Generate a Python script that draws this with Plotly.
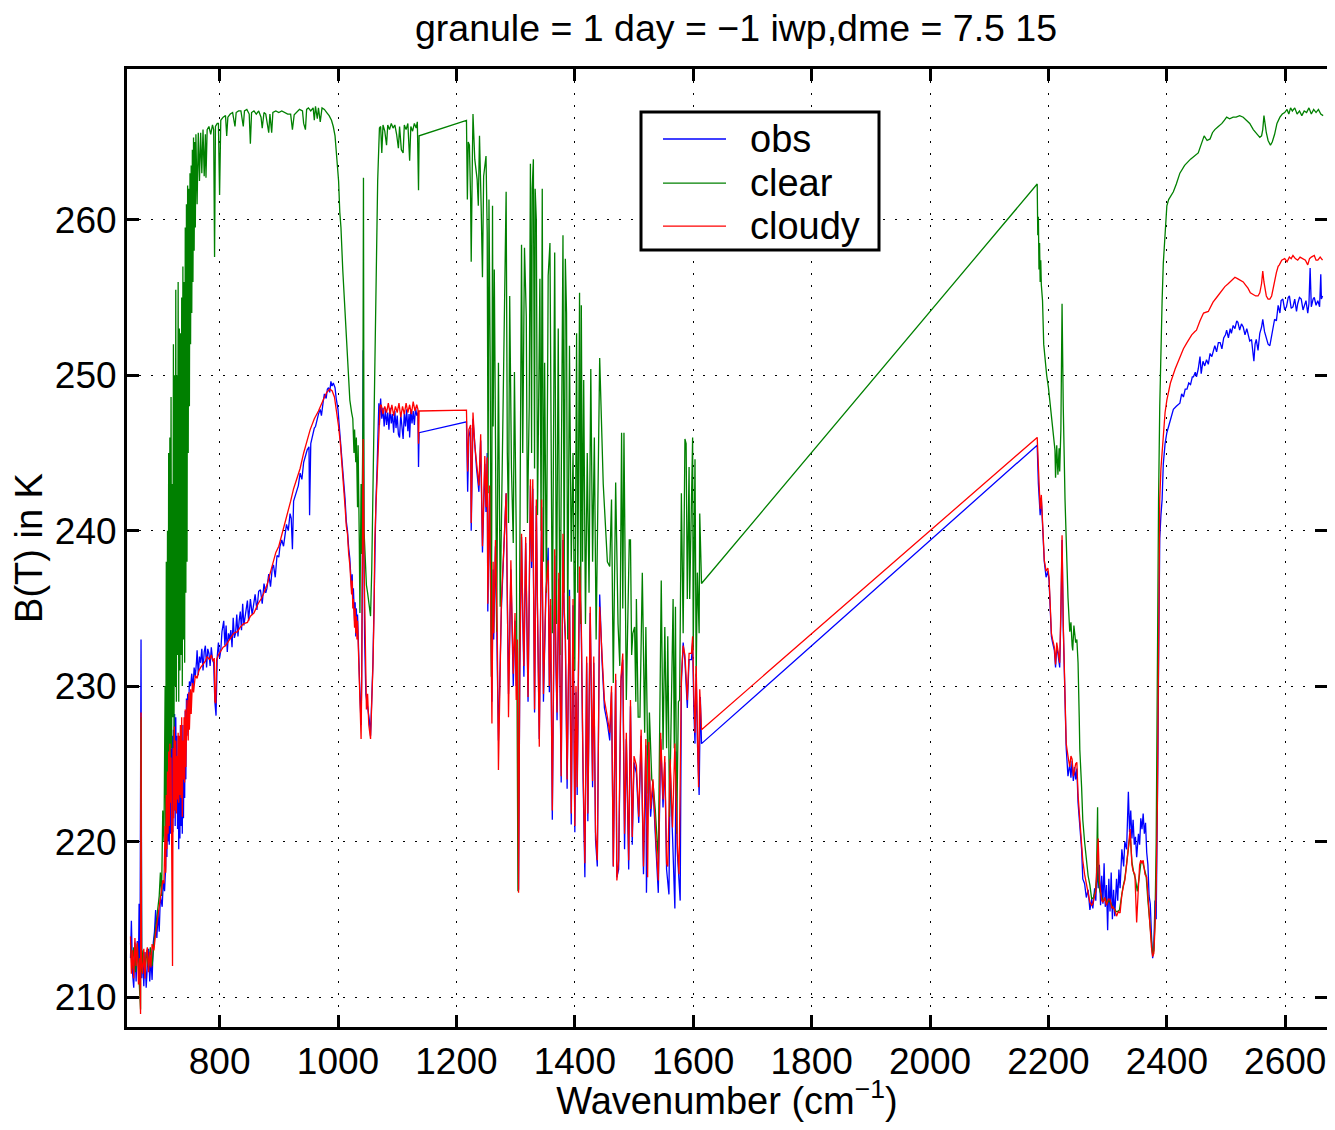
import plotly.graph_objects as go

# ---------------- data ----------------
obs_pts = [
 (649.5,212.5),(651,214.9),(653,211.5),(655,210.6),(657,213.5),(659,211.0),(661,213.6),(663,212.2),(664,216.0),(665.5,211.5),
 (667.3,233.0),(668.5,211.2),(670,212.8),(672,210.7),(674,212.9),(676,210.6),(678,212.0),(680,213.1),(682,211.0),(684,212.5),
 (686,211.1),(688,213.5),(690,214.2),(692,215.6),(694,213.8),(696,215.4),(698,214.2),(700,216.5),(703,215.8),(705,217.5),
 (707,216.8),(709,218.4),(710,222),(711,219),(712,223.5),(713,220),(714,224.2),(715,219.8),(716,225.6),(717,220.5),
 (718,226),(719,221.5),(720,226.8),(721,220.6),(722,227.2),(723,222),(724,228.2),(725,221),(726,228.0),(727,222.5),
 (728,226.8),(729,220.8),(730,225.5),(731,219.5),(732,226),(733,220.2),(734,227.5),(735,221),(736,226.3),(737,220.5),
 (738,227.5),(739,221.5),(740,226.5),(741,222.8),(742,228.4),(743,224),(744,229.2),(745,226.8),(746,229.5),(747,227.5),
 (749,230.3),(751,230.0),(753,230.8),(755,229.8),(757,231.2),(759,230.6),(761,231.6),(762,232.3),(764,230.7),(766,231.9),
 (768,231.5),(770,232.4),(772,231.0),(774,232.2),(776,232.6),(778,231.2),(780,232.4),(782,232.1),(784,231.3),(786,232.5),
 (788,231.7),(790,231.5),(792,229.0),(794,228.1),(796,231.9),(798,232.8),(800,231.8),(802,232.3),(804,233.5),(807,234.2),
 (809,232.6),(811,233.9),(813,232.2),(815,233.4),(817,233.0),(819,233.6),(821,232.5),(823,234.4),(825,233.1),(827,233.4),
 (829,234.6),(831,233.2),(833,234.2),(835,234.8),(837,233.6),(839,235.3),(841,233.9),(844,234.9),(847,235.5),(849,234.2),
 (852,235.6),(855,234.6),(857,235.1),(860,235.9),(863,234.9),(866,236.1),(869,236.2),(872,235.3),(875,236.6),(878,236.0),
 (880,236.3),(883,237.2),(886,236.4),(889,237.6),(891,237.8),(894,237.0),(897,238.4),(900,238.3),(902,239.0),(905,239.4),
 (908,239.0),(911,240.1),(913,240.4),(916,240.0),(919,241.1),(921,240.8),(923,238.8),(925,241.9),(928,242.3),(930,242.5),
 (933,242.9),(936,243.7),(939,243.3),(942,244.4),(945,244.8),(948,245.2),(951,245.4),(952,241.0),(954,245.6),(957,246.2),
 (960,246.6),(962,246.7),(964,247.1),(967,247.5),(970,247.8),(972,247.4),(975,248.3),(977,248.8),(980,248.5),(982,249.1),
 (984,249.2),(986,248.9),(988,249.6),(990,249.3),(992,249.5),(995,249.2),(997,248.5),(1000,247.8),(1002,246.8),(1004,245.9),
 (1006,244.9),(1008,244.3),(1010,243.0),(1012,242.0),(1014,240.6),(1016,240.0),(1018,238.9),(1020,238.2),(1022,236.8),(1023,236.3),
 (1024,237.2),(1025,235.3),(1026,236.3),(1027,234.5),(1028,234.2),(1029,235.4),(1030,233.2),(1031,235),(1032,233.5),(1033,234.6),
 (1034,233),(1035,231),(1037,229.5),(1039,227.5),(1040,230.5),(1041.5,240),(1042.5,251.6),(1043.5,240),(1045,233),(1047,229.5),
 (1049,229),(1051,228.5),(1053,227.8),(1055,226.8),(1057,228.8),(1059,231.5),(1061,235.5),(1062,238.8),(1064,241.8),(1066,244),
 (1068,246.5),(1069,248.2),(1070,246.8),(1072,248.5),(1074,247.2),(1076,247.9),(1078,246.7),(1080,247.8),(1082,246.8),(1084,247.6),
 (1086,246.5),(1088,247.9),(1090,246.9),(1092,247.5),(1094,246.3),(1096,247.7),(1098,246.6),(1100,247.4),(1102,246.2),(1104,246.0),
 (1106,247.5),(1108,246.4),(1110,245.9),(1112,247.6),(1114,246.7),(1116,247.8),(1118,246.4),(1120,247.5),(1121,246.0),(1123,247.8),
 (1125,246.9),(1127,247.7),(1129,246.8),(1131,247.9),(1133,247.4),(1135,247.6),(1136,244.1),(1137,246.3),(1217,247.0),
 (1219,242.5),(1221,246.0),(1224,246.6),(1225,240.0),(1228,247.2),(1231,245.2),(1234,244.0),(1238,242.5),(1241,245.8),(1244,238.6),
 (1248,244.3),(1250,241.2),(1252,245.0),(1253,234.8),(1256,242.5),(1258,235.5),(1260,229.0),(1262,237.5),(1263,233.0),(1266,239.0),
 (1269,232.6),(1271,226.5),(1276,235.0),(1280,238.4),(1284,242.4),(1286,235.5),(1288,229.5),(1292,237.5),(1294,232.5),(1296,230.0),
 (1299,234.2),(1301,230.0),(1303,232.5),(1305,216.9),(1307,230.6),(1310,239.6),(1312,234.6),(1314,230.6),(1317,239.2),(1319,233.6),
 (1321,229.0),(1323,235.6),(1325,242.9),(1327,237.6),(1329,242.7),(1332,228.3),(1335,241.6),(1337,234.6),(1340,226.6),(1344,241.5),
 (1346,235.6),(1347,229.0),(1351,235.6),(1355,238.9),(1357,229.6),(1359,235.2),(1362,221.4),(1366,238.4),(1368,231.6),(1370,227.8),
 (1373,236.9),(1375,229.6),(1377,223.8),(1380,239.4),(1382,234.6),(1384,233.0),(1387,223.4),(1391,236.2),(1394,221.1),(1397,235.2),
 (1400,220.6),(1402,229.6),(1404,223.0),(1408,237.3),(1411,233.4),(1414,224.0),(1417,217.7),(1420,231.5),(1422,221.3),(1426,234.7),
 (1430,223.5),(1432,231.5),(1435,220.1),(1438,218.4),(1442,235.9),(1446,231.6),(1450,228.6),(1455,227.6),(1459,226.5),(1462,229.6),
 (1465,218.4),(1469,230.4),(1471,217.7),(1474,218.2),(1478,230.3),(1481,231.7),(1484,219.5),(1487,226.6),(1491,218.2),(1494,228.7),
 (1497,219.8),(1500,225.1),(1504,224.4),(1508,221.2),(1512,226.8),(1516,217.9),(1520,226.2),(1521,216.7),(1525,225.9),(1528,221.6),
 (1532,223.6),(1537,219.6),(1541,216.7),(1545,226.6),(1549,222.2),(1552,225.1),(1555,218.2),(1559,216.6),(1561,224.9),(1565,220.4),
 (1569,215.7),(1571,225.8),(1573,219.4),(1578,216.2),(1580,230.2),(1583,232.8),(1586,231.6),(1590,228.6),(1593,231.7),(1597,231.7),
 (1599,232.8),(1601,228.5),(1603,226.3),(1605,230.8),(1607,226.5),(1610,223.0),(1612,229.3),(1614,226.3),(2181,245.5),
 (2183,243.0),(2186,241.0),(2188,242.0),(2190,240.2),(2193,238.0),(2196,237.0),(2199,237.4),(2201,236.8),(2203,235.2),(2205,233.2),
 (2207,232.8),(2210,232.3),(2212,231.2),(2214,232.5),(2216,232.1),(2219,231.2),(2221,234.5),(2223,239.4),(2225,233.8),(2226,232.0),
 (2228,228.8),(2230,226.0),(2233,224.2),(2236,225.0),(2238,224.1),(2240,225.2),(2242,223.9),(2244,224.8),(2246,224.0),(2248,224.7),
 (2250,222.5),(2253,220.8),(2256,219.5),(2258,217.6),(2261,217.3),(2264,216.4),(2267,216.9),(2270,215.6),(2273,216.3),(2275,215.7),
 (2278,217.0),(2280,216.2),(2282,218.4),(2284,217.0),(2286,218.5),(2288,215.9),(2290,217.8),(2292,216.0),(2294,218.6),(2296,215.8),
 (2298,217.2),(2300,214.3),(2302,217.6),(2304,215.5),(2306,218.0),(2308,215.0),(2310,216.9),(2312,215.2),(2315,217.6),(2317,216.2),
 (2319,218.2),(2321,217.0),(2324,219.5),(2327,218.4),(2329,220.0),(2332,219.5),(2334,221.5),(2335,223.2),(2337,220.6),(2339,222.0),
 (2341,220.2),(2343,221.4),(2345,219.8),(2347,220.3),(2349,219.0),(2352,220.5),(2354,219.8),(2356,221.5),(2358,220.8),(2360,221.8),
 (2362,220.5),(2364,221.2),(2366,219.3),(2368,218.5),(2370,216.5),(2372,216.0),(2374,214.0),(2376,212.5),(2378,213.2),(2380,216.2),
 (2382,215.0),(2384,220.5),(2385,226),(2386,231),(2387,236),(2388,239.5),(2390,241),(2392,242.0),(2394,244.3),(2397,245.6),
 (2400,246.3),(2403,246.7),(2406,247.1),(2411,247.8),(2416,248.0),(2422,248.2),(2425,248.8),(2428,248.6),(2431,249.1),(2434,249.1),
 (2437,249.5),(2440,249.4),(2443,249.9),(2445,249.9),(2448,250.2),(2450,249.9),(2453,250.4),(2456,251.2),(2458,250.1),(2461,250.9),
 (2464,250.6),(2467,251.0),(2470,250.7),(2473,251.4),(2476,251.2),(2479,251.6),(2481,251.9),(2484,251.5),(2487,252.1),(2490,252.1),
 (2493,251.7),(2496,252.4),(2499,252.6),(2501,252.9),(2504,252.4),(2507,253.0),(2509,252.7),(2512,253.2),(2515,253.0),(2518,253.5),
 (2520,253.4),(2523,252.9),(2526,253.3),(2529,253.1),(2532,252.6),(2535,253.0),(2537,252.7),(2540,252.2),(2543,252.3),(2545,251.7),
 (2547,250.9),(2549,252.0),(2551,252.3),(2554,251.6),(2557,252.7),(2560,253.1),(2562,253.6),(2565,252.8),(2568,252.3),(2571,252.0),
 (2574,251.9),(2577,252.5),(2579,252.8),(2582,253.6),(2585,253.5),(2588,254.5),(2591,254.0),(2593,254.8),(2596,254.9),(2599,254.2),
 (2602,254.4),(2605,255.0),(2607,255.1),(2610,254.3),(2613,254.4),(2616,254.9),(2619,254.1),(2621,254.6),(2624,255.0),(2627,254.9),
 (2630,254.2),(2632,254.4),(2635,254.8),(2638,254.0),(2640,254.6),(2642,256.9),(2644,254.4),(2647,254.9),(2649,255.0),(2652,254.5),
 (2655,254.8),(2658,254.4),(2660,256.5),(2661,254.9),(2663,255.1),
]

clear_pts = [
 (649.5,213.5),(652,211.8),(655,213.2),(658,211.6),(661,213.4),(664,211.4),(666.5,209.2),(667.3,228.0),(668.5,211.6),(671,213.0),
 (674,211.5),(677,213.0),(680,211.9),(683,213.2),(686,212.0),(689,213.4),(692,214.4),(695,215.2),(698,216.5),(700,218),
 (702,216.5),(704,222),(706,220),(708,230),(709,221),(710,238),(711,222),(712,240),(713,224),(714,245),
 (715,222),(716,246),(717,225),(718,248.6),(719,226),(720,243),(721,228),(722,252),(723,226),(724,250),
 (725,230),(726,255.5),(727,229),(728,250),(729,232),(730,256),(731,229),(732,253),(733,231),(734,252.7),
 (735,232),(736,255),(737,230),(738,257),(739,233),(740,256),(741,231.5),(742,259.5),(743,236),(744,261),
 (745,238),(746,262.2),(747,245),(748,262),(749,248),(750,263),(751,252),(752,263.5),(753,254),(754,264.5),
 (755,256),(756,265.3),(757,258),(758,265),(759,259.5),(760,265.5),(762,261),(764,265.6),(766,262.5),(768,265.6),
 (770,263),(772,265.8),(774,262.8),(776,265.5),(777,262.7),(779,265.8),(782,266),(785,265.5),(788,266.1),(790,265.8),
 (791.5,257.6),(793,266),(796,266.2),(798,266.2),(800,261.6),(802,266.4),(806,266.6),(810,266.7),(812,265.4),(814,266.6),
 (818,266.8),(822,266.9),(826,266.0),(828,266.9),(832,267.0),(836,267.0),(840,266.0),(842,267.0),(846,267.1),(850,266.8),
 (852,264.9),(854,266.9),(858,267.0),(862,266.8),(866,267.0),(870,266.6),(872,265.9),(875,266.9),(878,266.8),(883,265.6),
 (885,266.8),(888,265.6),(890,266.9),(895,267.0),(900,266.9),(905,267.0),(910,266.9),(915,266.8),(920,266.8),(923,265.8),
 (926,266.75),(930,266.9),(935,267.1),(940,267.0),(942,266.2),(945,265.8),(947,267.1),(950,267.2),(954,267.0),(958,267.2),
 (960,266.4),(962,267.3),(965,266.5),(967,267.2),(970,266.3),(973,267.2),(977,267.1),(981,266.9),(985,266.7),(989,266.4),
 (992,266.0),(995,265.4),(998,264.0),(1001,262.5),(1003,260.5),(1005,259.5),(1008,256.8),(1011,254.7),(1014,252.8),(1017,250.3),
 (1020,248.4),(1023,247.6),(1025,247.2),(1027,245.0),(1028,246.5),(1030,244.4),(1031,246.0),(1033,241.5),(1034,245.5),(1036,239.1),
 (1037,234.7),(1039,243),(1040,238.5),(1042,246.6),(1043,262.7),(1044,240),(1046,237.5),(1048,236.5),(1050,236),(1052,235.2),
 (1055,234.5),(1057,237.5),(1059,242.2),(1062,250.5),(1065,258.75),(1067,262.5),(1069,264.8),(1070,265.9),(1072,266.0),(1074,264.3),
 (1076,266.1),(1079,265.7),(1082,264.8),(1084,266.1),(1087,265.8),(1090,266.2),(1093,265.9),(1096,266.1),(1099,265.5),(1102,264.6),
 (1104,266.0),(1107,264.5),(1110,264.3),(1112,266.1),(1115,265.8),(1118,266.2),(1121,263.8),(1123,266.0),(1126,265.7),(1129,266.2),
 (1132,265.9),(1134,266.3),(1136,261.9),(1137,265.4),(1217,266.4),
 (1218.5,261.3),(1220,265.0),(1222,264.8),(1224,261.3),(1225,257.3),(1227,264.1),(1228,266.8),(1231,263.9),(1235,262.6),(1237,260.9),
 (1239,265.4),(1242,260.5),(1244,256.3),(1246,262.8),(1250,264.1),(1252,259.2),(1253.5,242.4),(1255,261.3),(1257,251.2),(1259,230.6),
 (1261,260.9),(1262,246.7),(1264,256.8),(1266,246),(1268,233.5),(1271,250.8),(1274,235.1),(1284,261.8),(1286,245),(1288,240.5),
 (1290,255.1),(1293,244),(1296,239.2),(1298,250.2),(1301,240),(1304,216.8),(1306,232),(1310,258.4),(1312,245),(1315,258.2),
 (1318,253.8),(1320,240.5),(1323,248),(1325,263.6),(1327,245),(1328,262.0),(1330,263.9),(1332,244),(1333,262),(1335,260.0),
 (1337,241),(1341,256.2),(1343,240),(1345,262.0),(1347,238),(1349,250.8),(1352,236),(1355,256.4),(1358,258.5),(1360,243),
 (1362,233.4),(1366,257.9),(1369,234),(1372,253),(1375,232),(1380,259.0),(1382,236),(1384,257.5),(1386,254.0),(1388,233),
 (1391,251.9),(1394,238),(1397,245),(1400,231),(1403,252.7),(1405,236),(1408,255.3),(1410,234),(1411,254.5),(1413,238),
 (1415,249.7),(1418,234),(1421,245),(1424,236),(1427,250.4),(1430,238),(1433,246),(1436,233),(1439,244),(1442,251.1),
 (1448,243),(1455,238),(1459,237.7),(1462,242.0),(1465,230.2),(1469,243.1),(1473,234),(1476,231.3),(1479,246.3),(1481,235),
 (1483,246.3),(1487,229.1),(1492,239.4),(1494,239.4),(1496,232),(1498,233.4),(1501,233.8),(1503,229),(1504,235.6),(1507,228),
 (1510,228.0),(1514,237.3),(1518,227.0),(1520,233.8),(1524,223.1),(1526,228.3),(1530,224),(1532,223.8),(1536,222),(1541,218.8),
 (1546,236.8),(1549,225.9),(1552,233.8),(1555,226),(1557,233.2),(1560,221.6),(1566,235.6),(1568,226),(1570,235.1),(1572,220.5),
 (1575,229),(1577,229.1),(1580,242.4),(1583,233.4),(1586,245.9),(1588,245.6),(1590,235.6),(1593,244.1),(1594,235.6),(1599,246.0),
 (1600,232.3),(1603,244.6),(1605,230.6),(1607,237.3),(1610,233.4),(1611,241.1),(1614,236.6),(2181,262.3),
 (2182,259.0),(2183,260.2),(2184,256.8),(2185,258.5),(2186,256.0),(2187,257.4),(2188,255.8),(2190,254.8),(2192,252.0),(2194,251.0),
 (2197,250.0),(2200,249.2),(2203,248.2),(2206,247.0),(2209,246.0),(2211,245.2),(2212,243.4),(2214,245.5),(2216,243.6),(2218,245.3),
 (2219,243.8),(2221,246.5),(2223,254.6),(2224,250),(2225,248),(2228,242),(2231,238),(2233,235.7),(2236,233.5),(2238,234.1),
 (2240,232.6),(2241,232.3),(2243,233.9),(2244,233.4),(2246,232.8),(2248,233.0),(2250,231.5),(2252,228),(2253,225.9),(2256,223.5),
 (2258,221.4),(2261,220),(2264,218.8),(2267,217.8),(2270,217.2),(2273,216.3),(2276,216.4),(2279,216.8),(2281,217.5),(2283,222.2),
 (2284,217.5),(2287,216.8),(2290,216.4),(2293,216.2),(2296,216.3),(2299,216.0),(2302,216.2),(2305,216.1),(2308,215.8),(2311,215.7),
 (2314,215.5),(2317,215.5),(2320,215.6),(2323,216.5),(2326,217.1),(2329,217.6),(2332,218.6),(2335,219.6),(2338,220.5),(2341,218.7),
 (2344,218.0),(2347,217.6),(2350,216.8),(2353,217.6),(2356,218.6),(2359,218.7),(2362,218.3),(2365,217.8),(2368,216.2),(2371,214.8),
 (2374,213.4),(2376,212.7),(2378,213.0),(2380,215),(2382,220),(2383,228),(2385,236),(2386,242),(2388,248),(2390,252),
 (2392,254.8),(2394,257.2),(2397,259.4),(2400,260.9),(2403,261.3),(2411,261.8),(2416,262.3),(2422,263.0),(2430,263.5),(2440,263.9),
 (2453,264.3),(2458,264.9),(2463,265.4),(2468,265.1),(2473,265.2),(2477,265.6),(2481,265.8),(2487,266.0),(2493,266.2),(2497,266.4),
 (2501,266.6),(2506,266.5),(2512,266.6),(2517,266.6),(2523,266.7),(2529,266.6),(2535,266.4),(2540,266.2),(2546,265.8),(2550,265.6),
 (2554,265.4),(2557,265.3),(2560,265.4),(2562,265.8),(2564,266.7),(2566,266.0),(2568,265.6),(2571,265.1),(2575,264.8),(2578,265.0),
 (2582,265.5),(2586,266.2),(2591,266.6),(2595,266.8),(2599,266.9),(2603,267.1),(2606,266.8),(2609,267.2),(2612,267.0),(2616,267.2),
 (2620,266.8),(2624,267.0),(2628,266.7),(2632,267.0),(2636,266.9),(2640,267.2),(2644,266.8),(2648,267.1),(2652,266.9),(2656,267.1),
 (2660,266.8),(2664,266.7),
]

cloudy_pts = [
 (649.5,213.9),(651,211.5),(653,213),(655,211.2),(657,213.8),(659,212),(661,213.5),(663,210.8),(665,212.5),(666.5,208.9),
 (667.3,228.3),(668,212.3),(670,211.5),(672,213.1),(674,211.2),(676,212.8),(678,213.2),(680,211.6),(682,212.9),(684,211.9),
 (686,213.4),(689,213.0),(692,214.1),(695,215.0),(698,215.8),(701,216.5),(704,217.5),(706,217.3),(708,221),(709,218),
 (710,223),(711,219.5),(712,224.5),(713,220.5),(714,225.8),(715,221),(716,226.3),(717,222.5),(718,225.4),(720.5,212.0),
 (721.5,226),(722.5,221.5),(723.5,227.4),(725,222),(726,226.5),(727,221.8),(728,225.5),(729,222.7),(730,227),(731,222.5),
 (732,226.8),(733,223),(734,227.5),(735,222.8),(736,228),(737,221.6),(738,226.5),(739,224),(740,228),(741,223.8),
 (742,228.5),(743,224.8),(744,229),(745,229.1),(747,226.5),(748,229.6),(749,227.2),(751,229.8),(752,228.2),(754,230.2),
 (756,229.6),(759,230.7),(762,230.5),(765,231.0),(768,231.2),(772,231.4),(776,231.6),(779,231.9),(783,231.7),(786,232.0),
 (789,231.6),(791,231.8),(792,229.0),(793.5,228.9),(795,231.7),(798,232.0),(802,232.3),(806,232.5),(810,232.6),(815,232.9),
 (820,233.2),(824,233.4),(830,233.5),(835,233.8),(840,234.0),(847,234.1),(852,234.5),(858,234.7),(865,235.3),(870,235.6),
 (875,236.0),(880,236.5),(885,237.2),(890,237.9),(895,238.6),(900,239.0),(905,239.7),(910,240.4),(915,241.1),(920,241.9),
 (925,242.7),(930,243.3),(936,244.0),(942,245.0),(948,245.9),(953,246.5),(960,247.2),(967,247.7),(975,248.4),(981,248.9),
 (986,249.1),(990,249.0),(994,248.6),(998,247.6),(1001,246.7),(1004,245.6),(1006,244.7),(1008,243.6),(1010,242.8),(1012,241.5),
 (1014,240.3),(1016,239.8),(1018,238.5),(1020,237.8),(1022,236.5),(1023,235.9),(1024,236.8),(1025,235.0),(1026,235.6),(1027,234.3),
 (1028,233.75),(1029,235.0),(1030,233.4),(1031,234.5),(1032,233.0),(1033,234.2),(1034,232.8),(1035,230.6),(1037,228.5),(1039,226.6),
 (1040,230.0),(1041.5,237.5),(1042.5,245.9),(1044,238),(1046,232),(1048,228.5),(1050,229.5),(1052,227.5),(1055,226.6),(1057,228.5),
 (1059,231.25),(1061,235),(1062,239.1),(1064,241.5),(1066,243.4),(1068,246),(1069,247.2),(1071,248.0),(1073,248.1),(1076,247.5),
 (1079,248.0),(1082,247.6),(1085,248.2),(1088,247.5),(1091,248.1),(1094,247.4),(1097,248.0),(1100,247.6),(1103,248.2),(1106,247.3),
 (1109,248.0),(1112,247.5),(1115,248.2),(1118,247.6),(1121,248.1),(1124,247.5),(1127,248.3),(1130,247.7),(1133,248.1),(1135,247.8),
 (1136,245.6),(1137,247.7),(1217,247.75),
 (1219,243.8),(1221,246.5),(1224,246.8),(1225,240.5),(1228,247.6),(1231,245.5),(1234,244.4),(1238,242.9),(1241,246.2),(1244,239.0),
 (1248,244.8),(1250,241.5),(1252,244.7),(1253,235.3),(1256,242.9),(1258,236),(1260,227.6),(1262,238),(1263,233.4),(1266,239.4),
 (1269,233.4),(1271,224.6),(1276,235.5),(1280,238.8),(1284,242.4),(1286,236),(1288,228.0),(1292,238.1),(1294,233),(1296,230.8),
 (1299,234.7),(1301,229.1),(1303,233),(1305,216.7),(1307,231),(1310,239.8),(1312,235),(1314,231.3),(1317,239.6),(1319,234),
 (1321,229.3),(1323,236),(1325,243.3),(1327,238),(1329,243.3),(1332,228.5),(1335,242.0),(1337,235),(1340,226.1),(1344,242.0),
 (1346,236),(1347,229.5),(1351,236),(1355,238.1),(1357,230),(1359,235.6),(1362,222.0),(1366,238.8),(1368,232),(1370,228.3),
 (1373,237.3),(1375,230),(1377,224.2),(1380,239.8),(1382,235),(1384,233.4),(1387,224.0),(1391,235.8),(1394,221.8),(1397,235.6),
 (1400,221.0),(1402,230),(1404,223.5),(1408,237.7),(1411,233.8),(1414,224.5),(1417,218.6),(1420,231.9),(1422,221.8),(1426,235.1),
 (1430,223.9),(1432,231.9),(1435,220.6),(1438,218.8),(1442,235.1),(1446,232),(1450,229.1),(1455,228),(1459,227.0),(1462,230),
 (1465,218.4),(1469,230.8),(1471,217.5),(1474,218.8),(1478,230.6),(1481,232.1),(1484,220.5),(1487,227.0),(1491,218.8),(1494,229.1),
 (1497,220.3),(1500,225.5),(1504,224.9),(1508,221.6),(1512,227.2),(1516,218.4),(1520,226.6),(1523,217.7),(1525,226.4),(1528,222.1),
 (1532,224.0),(1537,220.1),(1541,217.5),(1545,227.0),(1549,222.7),(1552,225.5),(1555,218.6),(1557,218.4),(1561,225.3),(1565,220.9),
 (1569,226.3),(1573,219.9),(1576,217.9),(1578,224),(1580,230.6),(1583,232.6),(1586,232.0),(1590,229.1),(1593,232.1),(1597,232.1),
 (1599,233.2),(1601,229.5),(1603,227.0),(1605,231.3),(1607,227.0),(1609,223.5),(1611,229.8),(1614,227.2),(2181,246.0),
 (2183,244.1),(2186,241.4),(2188,242.3),(2190,240.6),(2193,238.1),(2196,237.4),(2199,237.6),(2201,237.0),(2203,235.5),(2205,233.4),
 (2207,233.0),(2210,232.5),(2212,231.4),(2214,232.8),(2216,232.3),(2219,231.5),(2221,235),(2223,239.7),(2225,234),(2226,232.2),
 (2228,229),(2230,226.3),(2233,225.5),(2236,224.8),(2238,225.5),(2240,225.3),(2242,224.2),(2244,224.6),(2246,225.0),(2248,225.1),
 (2250,223),(2253,221.4),(2256,219.8),(2258,218.8),(2261,217.9),(2264,217.2),(2267,216.6),(2270,216.1),(2273,215.9),(2275,216.0),
 (2278,216.5),(2280,216.8),(2282,218.5),(2284,220.2),(2286,217.5),(2288,216.7),(2290,216.2),(2292,216.1),(2295,216.4),(2298,215.9),
 (2301,216.3),(2304,216.3),(2307,215.7),(2309,215.8),(2312,215.6),(2315,215.2),(2318,215.5),(2321,215.4),(2324,216.6),(2327,217.2),
 (2329,217.5),(2332,218.5),(2335,219.7),(2338,220.8),(2341,218.5),(2343,218.1),(2346,217.9),(2349,214.8),(2352,217.1),(2354,218.5),
 (2356,218.8),(2358,218.6),(2360,218.8),(2363,217.9),(2366,217.7),(2369,215.7),(2372,214.3),(2374,213.2),(2376,212.6),(2378,212.8),
 (2380,214.5),(2382,217.0),(2384,222.5),(2385,228.1),(2386,233),(2387,238),(2388,242),(2390,244),(2393,245.4),(2397,247.6),
 (2400,248.4),(2406,249.5),(2414,250.4),(2422,251.2),(2428,251.7),(2434,252.1),(2442,252.6),(2447,252.8),(2450,252.9),(2456,253.5),
 (2462,254.0),(2470,254.1),(2478,254.7),(2484,255.0),(2490,255.3),(2498,255.7),(2504,255.9),(2509,256.1),(2515,256.3),(2520,256.2),
 (2525,256.1),(2529,256.0),(2533,255.8),(2537,255.6),(2541,255.3),(2546,255.2),(2550,255.1),(2554,255.1),(2557,255.3),(2560,255.9),
 (2562,256.7),(2564,256.0),(2566,255.4),(2568,255.1),(2571,254.9),(2574,254.9),(2577,255.1),(2579,255.5),(2582,256.0),(2585,256.6),
 (2588,257.0),(2590,257.1),(2594,257.4),(2599,257.5),(2603,257.3),(2607,257.6),(2610,257.5),(2613,257.7),(2617,257.5),(2621,257.4),
 (2625,257.6),(2630,257.5),(2634,257.4),(2638,257.1),(2641,257.5),(2644,257.6),(2649,257.7),(2652,257.4),(2655,257.4),(2659,257.6),
 (2663,257.4),
]

wn_obs, bt_obs = zip(*obs_pts)
wn_clear, bt_clear = zip(*clear_pts)
wn_cloudy, bt_cloudy = zip(*cloudy_pts)

x_ticks = [800, 1000, 1200, 1400, 1600, 1800, 2000, 2200, 2400, 2600]
y_ticks = [210, 220, 230, 240, 250, 260]
series_names = ["obs", "clear", "cloudy"]
series_colors = ["#0000ff", "#008000", "#ff0000"]

FONT = "Liberation Sans, Arial, Helvetica, sans-serif"
FS_TICK = 37
FS_TEXT = 38

fig = go.Figure()
for nm, col, xs, ys in zip(series_names, series_colors,
                           [wn_obs, wn_clear, wn_cloudy],
                           [bt_obs, bt_clear, bt_cloudy]):
    fig.add_trace(go.Scatter(x=xs, y=ys, mode="lines", name=nm,
                             line=dict(color=col, width=1.3), showlegend=False))

axis_common = dict(
    showline=True, linecolor="black", linewidth=3, mirror="ticks",
    ticks="inside", ticklen=12, tickwidth=3, tickcolor="black",
    showgrid=True, gridcolor="black", gridwidth=1, griddash="2px,10px",
    zeroline=False, automargin=False,
    tickfont=dict(size=FS_TICK, color="black", family=FONT),
)

# legend box (MATLAB-style), in paper coordinates of the plot area
# plot area: x 127..1327 px (1200 px), y 69..1026.7 px (957.7 px) in the page
def px_x(p):
    return (p - 127) / 1200.0

def px_y(p):
    return (1026.7 - p) / 957.7

LX0, LX1, LY0, LY1 = px_x(641), px_x(879), px_y(250), px_y(112)
line_x0, line_x1, text_x = px_x(663), px_x(726), px_x(748)
row_y = [px_y(139), px_y(183), px_y(226)]

shapes = [dict(type="rect", xref="paper", yref="paper", x0=LX0, x1=LX1, y0=LY0, y1=LY1,
               line=dict(color="black", width=3), fillcolor="white", layer="above")]
annotations = []
for nm, col, yy in zip(series_names, series_colors, row_y):
    shapes.append(dict(type="line", xref="paper", yref="paper", x0=line_x0, x1=line_x1,
                       y0=yy, y1=yy, line=dict(color=col, width=1.3), layer="above"))
    annotations.append(dict(text=nm, xref="paper", yref="paper", x=text_x, y=yy,
                            xanchor="left", yanchor="middle", showarrow=False,
                            font=dict(size=FS_TEXT, color="black", family=FONT)))

# the page body adds an 8 px margin on every side; size the figure to fit the window
fig.update_layout(
    width=1319, height=1114,
    margin=dict(l=119, r=0, t=61, b=95),
    paper_bgcolor="white", plot_bgcolor="white",
    font=dict(family=FONT, color="black", size=FS_TICK),
    title=dict(text="granule = 1 day = −1 iwp,dme = 7.5 15",
               xref="paper", x=px_x(736), xanchor="center",
               yref="container", y=0.982, yanchor="middle",
               font=dict(size=37.5)),
    xaxis=dict(range=[643.6, 2670.5], tickvals=x_ticks,
               title=dict(text="Wavenumber (cm<sup>−1</sup>)", font=dict(size=FS_TEXT), standoff=17),
               ticklabelstandoff=0, **axis_common),
    yaxis=dict(range=[208.07, 269.7], tickvals=y_ticks,
               title=dict(text="B(T) in K", font=dict(size=FS_TEXT), standoff=9),
               ticklabelstandoff=0, **axis_common),
    shapes=shapes, annotations=annotations,
    showlegend=False,
)

fig.write_html("out.html")
